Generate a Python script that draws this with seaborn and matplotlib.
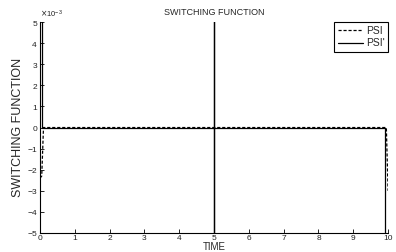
import matplotlib
matplotlib.use("Agg")
import matplotlib.pyplot as plt
import matplotlib.ticker as mticker
import seaborn as sns
import pandas as pd

# ---- data ----
psi_time = [0.00, 0.05, 0.10, 9.95, 10.00]
psi_value = [-2.4e-3, -2.3e-3, 0.0, 0.0, -3.0e-3]

psi_p_time = [0.05, 0.05, 5.00, 5.00, 5.00, 5.00, 9.90, 9.90]
psi_p_value = [8.0e-3, 0.0, 0.0, 8.0e-3, -8.0e-3, 0.0, 0.0, -8.0e-3]

series_labels = ["PSI", "PSI'"]
x_ticks = [0, 1, 2, 3, 4, 5, 6, 7, 8, 9, 10]
y_ticks = [-5e-3, -4e-3, -3e-3, -2e-3, -1e-3, 0, 1e-3, 2e-3, 3e-3, 4e-3, 5e-3]

sns.set_style("ticks")
plt.rcParams["font.family"] = ["Liberation Sans", "DejaVu Sans"]
plt.rcParams["xtick.direction"] = "in"
plt.rcParams["ytick.direction"] = "in"

df1 = pd.DataFrame({"t": psi_time, "v": psi_value})
df2 = pd.DataFrame({"t": psi_p_time, "v": psi_p_value})

fig = plt.figure(figsize=(3.96, 2.52), dpi=100)
ax = fig.add_axes([0.101, 0.0754, 0.879, 0.837])

sns.lineplot(data=df1, x="t", y="v", ax=ax, color="black", lw=0.9,
             linestyle="--", estimator=None, sort=False, label=series_labels[0])
sns.lineplot(data=df2, x="t", y="v", ax=ax, color="black", lw=0.9,
             linestyle="-", estimator=None, sort=False, label=series_labels[1])
ax.lines[0].set_dashes([2.5, 1.5])

ax.set_xlim(0, 10)
ax.set_ylim(-5e-3, 5e-3)
ax.set_xticks(x_ticks)
ax.set_yticks(y_ticks)
fmt = mticker.ScalarFormatter(useMathText=True)
fmt.set_powerlimits((-2, 2))
ax.yaxis.set_major_formatter(fmt)
ax.yaxis.get_offset_text().set_fontsize(5.5)
ax.yaxis.get_offset_text().set_color("#222222")

ax.tick_params(axis="both", labelsize=6, length=3, width=0.6, pad=1.5,
               colors="black", labelcolor="#222222")
for side in ["top", "right"]:
    ax.spines[side].set_visible(False)
for side in ["left", "bottom"]:
    ax.spines[side].set_linewidth(0.8)
    ax.spines[side].set_color("black")

ax.set_title("SWITCHING FUNCTION", fontsize=6.5, pad=5)
ax.set_xlabel("TIME", fontsize=7, labelpad=0)
ax.set_ylabel("SWITCHING FUNCTION", fontsize=9, labelpad=2)

leg = ax.legend(loc="upper right", bbox_to_anchor=(1.0, 1.0), fontsize=7.5,
                frameon=True, fancybox=False, framealpha=1, edgecolor="black",
                handlelength=2.4, handletextpad=0.3, borderpad=0.35,
                labelspacing=0.25, borderaxespad=0.0)
leg.get_frame().set_linewidth(0.8)

fig.savefig("out.png", dpi=100)
